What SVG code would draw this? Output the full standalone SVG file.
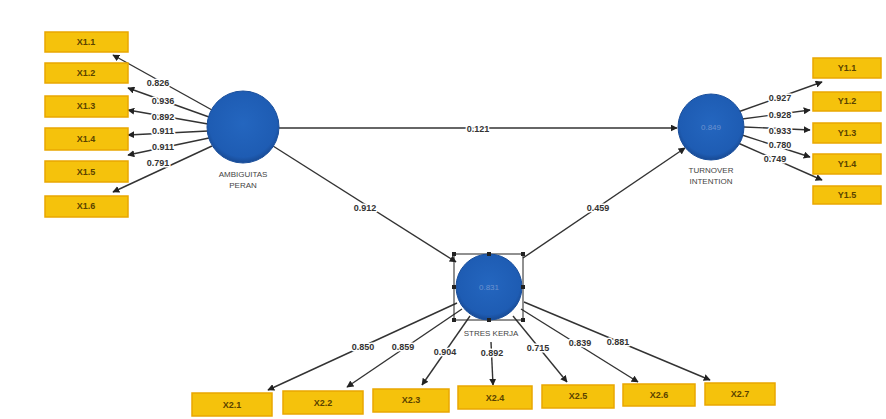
<svg xmlns="http://www.w3.org/2000/svg" width="886" height="419" viewBox="0 0 886 419">
<defs>
<marker id="ah" viewBox="0 0 10 10" refX="9" refY="5" markerWidth="7" markerHeight="7" markerUnits="userSpaceOnUse" orient="auto">
<path d="M0,0 L10,5 L0,10 z" fill="#222"/>
</marker>
<radialGradient id="cg" cx="50%" cy="45%" r="55%">
<stop offset="0" stop-color="#2466bf"/>
<stop offset="0.85" stop-color="#1e5cb3"/>
<stop offset="1" stop-color="#184a94"/>
</radialGradient>
</defs>
<style>
.box{fill:#f5c20c;stroke:#e9a700;stroke-width:1.5}
.bt{font-family:"Liberation Sans",Arial,sans-serif;font-size:9px;font-weight:bold;fill:#5a4300;text-anchor:middle;dominant-baseline:central}
.ln{stroke:#333;stroke-width:1.4;fill:none;marker-end:url(#ah)}
.lb{font-family:"Liberation Sans",Arial,sans-serif;font-size:9px;font-weight:bold;fill:#333;text-anchor:middle;dominant-baseline:central;stroke:#fff;stroke-width:3;paint-order:stroke;stroke-linejoin:round}
.cl{fill:url(#cg);stroke:#1a4f9c;stroke-width:1}
.ct{font-family:"Liberation Sans",Arial,sans-serif;font-size:8px;fill:#6d93cf;text-anchor:middle;dominant-baseline:central}
.nl{font-family:"Liberation Sans",Arial,sans-serif;font-size:8px;fill:#444;text-anchor:middle}
</style>
<rect width="886" height="419" fill="#fff"/>

<g id="connectors">
<!-- structural -->
<line class="ln" x1="279" y1="128" x2="677" y2="128"/>
<line class="ln" x1="273" y1="146" x2="456" y2="262"/>
<line class="ln" x1="523" y1="258" x2="685" y2="148"/>
<!-- ambiguitas indicators -->
<line class="ln" x1="212" y1="110" x2="113" y2="55"/>
<line class="ln" x1="209" y1="117" x2="128" y2="88"/>
<line class="ln" x1="208" y1="124" x2="128" y2="110"/>
<line class="ln" x1="208" y1="131" x2="128" y2="135"/>
<line class="ln" x1="209" y1="138" x2="128" y2="155"/>
<line class="ln" x1="212" y1="146" x2="113" y2="192"/>
<!-- turnover indicators -->
<line class="ln" x1="738" y1="112" x2="822" y2="82"/>
<line class="ln" x1="742" y1="119" x2="810" y2="110"/>
<line class="ln" x1="744" y1="127" x2="810" y2="130"/>
<line class="ln" x1="742" y1="135" x2="810" y2="157"/>
<line class="ln" x1="738" y1="143" x2="822" y2="180"/>
<!-- stres kerja indicators -->
<line class="ln" x1="457" y1="303" x2="268" y2="390"/>
<line class="ln" x1="462" y1="309" x2="347" y2="387"/>
<line class="ln" x1="470" y1="316" x2="422" y2="385"/>
<line class="ln" x1="491" y1="342" x2="493" y2="385"/>
<line class="ln" x1="513" y1="316" x2="567" y2="382"/>
<line class="ln" x1="521" y1="309" x2="638" y2="382"/>
<line class="ln" x1="524" y1="302" x2="710" y2="380"/>
<!-- labels -->
<text class="lb" x="478" y="129">0.121</text>
<text class="lb" x="365" y="208">0.912</text>
<text class="lb" x="598" y="208">0.459</text>
<text class="lb" x="158" y="83">0.826</text>
<text class="lb" x="163" y="101">0.936</text>
<text class="lb" x="163" y="117">0.892</text>
<text class="lb" x="163" y="131">0.911</text>
<text class="lb" x="163" y="147">0.911</text>
<text class="lb" x="158" y="163">0.791</text>
<text class="lb" x="780" y="98">0.927</text>
<text class="lb" x="780" y="115">0.928</text>
<text class="lb" x="780" y="131">0.933</text>
<text class="lb" x="780" y="145">0.780</text>
<text class="lb" x="775" y="159">0.749</text>
<text class="lb" x="363" y="347">0.850</text>
<text class="lb" x="403" y="347">0.859</text>
<text class="lb" x="445" y="352">0.904</text>
<text class="lb" x="492" y="353">0.892</text>
<text class="lb" x="538" y="348">0.715</text>
<text class="lb" x="580" y="343">0.839</text>
<text class="lb" x="618" y="342">0.881</text>
</g>

<g id="ambiguitas">
<circle class="cl" cx="243" cy="127" r="36"/>
<text class="nl" x="243" y="177">AMBIGUITAS</text>
<text class="nl" x="243" y="188">PERAN</text>
</g>
<g id="turnover">
<circle class="cl" cx="711" cy="127" r="33"/>
<text class="ct" x="711" y="127">0.849</text>
<text class="nl" x="711" y="173">TURNOVER</text>
<text class="nl" x="711" y="184">INTENTION</text>
</g>
<g id="streskerja">
<rect x="454" y="254" width="69" height="66" fill="none" stroke="#222" stroke-width="1"/>
<circle class="cl" cx="489" cy="287" r="33"/>
<g fill="#222">
<rect x="452" y="252" width="4" height="4"/><rect x="521" y="252" width="4" height="4"/>
<rect x="452" y="318" width="4" height="4"/><rect x="521" y="318" width="4" height="4"/>
<rect x="487" y="252" width="4" height="4"/><rect x="487" y="318" width="4" height="4"/>
<rect x="452" y="285" width="4" height="4"/><rect x="521" y="285" width="4" height="4"/>
</g>
<text class="ct" x="489" y="287">0.831</text>
<text class="nl" x="491" y="336" stroke="#fff" stroke-width="2" paint-order="stroke">STRES KERJA</text>
</g>

<g id="X1.1"><rect class="box" x="45" y="32" width="83" height="20"/><text class="bt" x="86" y="42">X1.1</text></g>
<g id="X1.2"><rect class="box" x="45" y="63" width="83" height="20"/><text class="bt" x="86" y="73">X1.2</text></g>
<g id="X1.3"><rect class="box" x="45" y="96" width="83" height="21"/><text class="bt" x="86" y="106">X1.3</text></g>
<g id="X1.4"><rect class="box" x="45" y="128" width="83" height="22"/><text class="bt" x="86" y="139">X1.4</text></g>
<g id="X1.5"><rect class="box" x="45" y="161" width="83" height="21"/><text class="bt" x="86" y="172">X1.5</text></g>
<g id="X1.6"><rect class="box" x="45" y="196" width="83" height="21"/><text class="bt" x="86" y="206">X1.6</text></g>

<g id="Y1.1"><rect class="box" x="813" y="58" width="68" height="20"/><text class="bt" x="847" y="68">Y1.1</text></g>
<g id="Y1.2"><rect class="box" x="813" y="92" width="68" height="19"/><text class="bt" x="847" y="101">Y1.2</text></g>
<g id="Y1.3"><rect class="box" x="813" y="123" width="68" height="20"/><text class="bt" x="847" y="133">Y1.3</text></g>
<g id="Y1.4"><rect class="box" x="813" y="154" width="68" height="20"/><text class="bt" x="847" y="164">Y1.4</text></g>
<g id="Y1.5"><rect class="box" x="813" y="186" width="68" height="18"/><text class="bt" x="847" y="195">Y1.5</text></g>

<g id="X2.1"><rect class="box" x="192" y="393" width="80" height="23"/><text class="bt" x="232" y="405">X2.1</text></g>
<g id="X2.2"><rect class="box" x="283" y="391" width="80" height="23"/><text class="bt" x="323" y="403">X2.2</text></g>
<g id="X2.3"><rect class="box" x="373" y="389" width="76" height="23"/><text class="bt" x="411" y="400">X2.3</text></g>
<g id="X2.4"><rect class="box" x="458" y="386" width="74" height="23"/><text class="bt" x="495" y="398">X2.4</text></g>
<g id="X2.5"><rect class="box" x="542" y="385" width="72" height="23"/><text class="bt" x="578" y="396">X2.5</text></g>
<g id="X2.6"><rect class="box" x="623" y="384" width="72" height="22"/><text class="bt" x="659" y="395">X2.6</text></g>
<g id="X2.7"><rect class="box" x="705" y="383" width="70" height="22"/><text class="bt" x="740" y="394">X2.7</text></g>
</svg>
